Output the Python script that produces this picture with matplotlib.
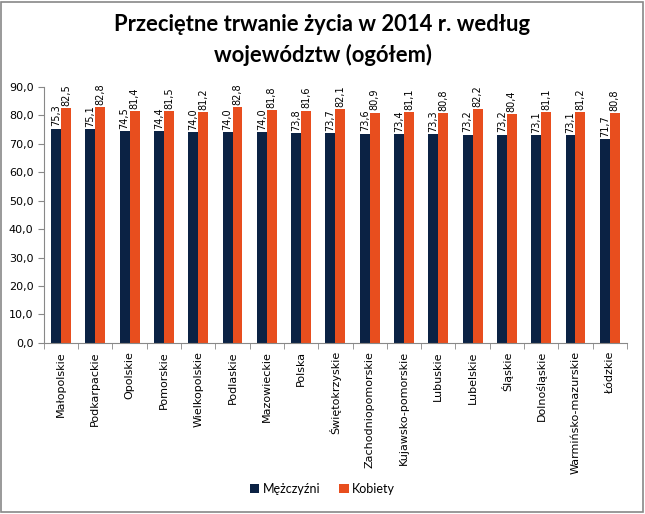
import matplotlib.pyplot as plt
import matplotlib.ticker as tik
import numpy as np
from matplotlib.patches import Rectangle

plt.rcParams['font.family'] = ['DejaVu Sans']

# dane
regions = ['Małopolskie', 'Podkarpackie', 'Opolskie', 'Pomorskie', 'Wielkopolskie',
           'Podlaskie', 'Mazowieckie', 'Polska', 'Świętokrzyskie', 'Zachodniopomorskie',
           'Kujawsko-pomorskie', 'Lubuskie', 'Lubelskie', 'Śląskie', 'Dolnośląskie',
           'Warmińsko-mazurskie', 'Łódzkie']
men = [75.3, 75.1, 74.5, 74.4, 74.0, 74.0, 74.0, 73.8, 73.7, 73.6,
       73.4, 73.3, 73.2, 73.2, 73.1, 73.1, 71.7]
women = [82.5, 82.8, 81.4, 81.5, 81.2, 82.8, 81.8, 81.6, 82.1, 80.9,
         81.1, 80.8, 82.2, 80.4, 81.1, 81.2, 80.8]

men_color = '#0B2244'
women_color = '#E84E1E'

fig = plt.figure(figsize=(6.45, 5.14), dpi=100)
ax = fig.add_axes([0.068, 0.333, 0.904, 0.498])

x = np.arange(len(regions))
w = 0.29
b1 = ax.bar(x - w/2, men, w, color=men_color, label='Mężczyźni')
b2 = ax.bar(x + w/2, women, w, color=women_color, label='Kobiety')

# etykiety wartości
for bars in (b1, b2):
    for r in bars:
        ax.text(r.get_x() + r.get_width()/2, r.get_height() + 0.8,
                f'{r.get_height():.1f}'.replace('.', ','),
                rotation=90, ha='center', va='bottom', fontsize=7)

ax.set_xlim(-0.5, len(regions) - 0.5)
ax.set_ylim(0, 90)
ax.yaxis.set_major_locator(tik.MultipleLocator(10))
ax.yaxis.set_major_formatter(tik.FuncFormatter(lambda v, p: f'{v:.1f}'.replace('.', ',')))
ax.set_xticks(x)
ax.set_xticklabels(regions, rotation=90, fontsize=8)
ax.xaxis.set_minor_locator(tik.FixedLocator(np.arange(-0.5, len(regions), 1)))
ax.tick_params(axis='x', which='major', length=0, pad=6)
ax.tick_params(axis='x', which='minor', length=4, color='#888888')
ax.tick_params(axis='y', length=4, color='#888888', labelsize=8)

for s in ('top', 'right'):
    ax.spines[s].set_visible(False)
for s in ('left', 'bottom'):
    ax.spines[s].set_color('#888888')

fig.suptitle('Przeciętne trwanie życia w 2014 r. według\nwojewództw (ogółem)',
             y=0.972, fontsize=15.8, fontweight='bold', linespacing=1.45,
             family=['Lato', 'DejaVu Sans'])

fig.legend(loc='lower center', bbox_to_anchor=(0.5, 0.015), ncol=2, frameon=False,
           prop={'family': ['Lato', 'DejaVu Sans'], 'size': 9},
           handlelength=0.75, handleheight=0.75, handletextpad=0.3,
           columnspacing=1.5)

fig.patches.append(Rectangle((0.002, 0.003), 0.995, 0.994, transform=fig.transFigure,
                             fill=False, edgecolor='#888888', linewidth=1.2))

plt.savefig('out.png', dpi=100)
